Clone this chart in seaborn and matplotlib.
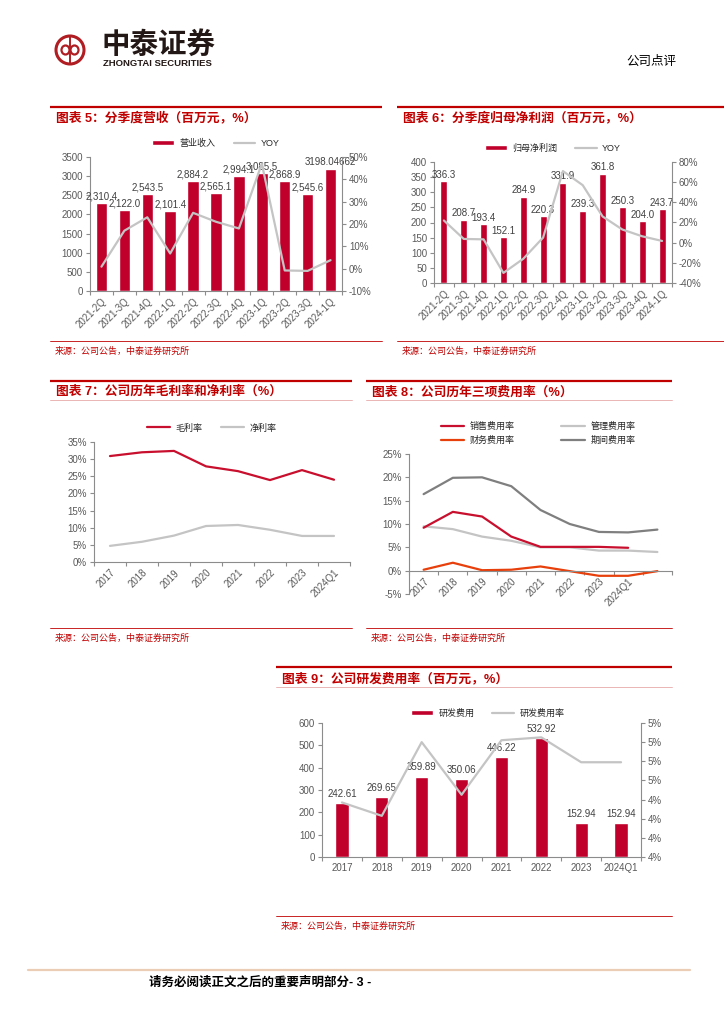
import numpy as np
import matplotlib
matplotlib.use('Agg')
import matplotlib.pyplot as plt
import seaborn as sns
from matplotlib.patches import Patch, Circle, Ellipse
from matplotlib.lines import Line2D
from matplotlib.ticker import MultipleLocator, FuncFormatter

# ---- data ----
quarters_rev = ['2021-2Q', '2021-3Q', '2021-4Q', '2022-1Q', '2022-2Q', '2022-3Q',
                '2022-4Q', '2023-1Q', '2023-2Q', '2023-3Q', '2024-1Q']
revenue = [2310.4, 2122.0, 2543.5, 2101.4, 2884.2, 2565.1, 2994.1, 3085.5, 2868.9, 2545.6, 3198.04662]
revenue_yoy = [0.9, 17.0, 23.0, 6.8, 25.0, 21.0, 18.0, 47.0, -0.8, -1.0, 3.8]

quarters_np = ['2021-2Q', '2021-3Q', '2021-4Q', '2022-1Q', '2022-2Q', '2022-3Q',
               '2022-4Q', '2023-1Q', '2023-2Q', '2023-3Q', '2023-4Q', '2024-1Q']
net_profit = [336.3, 208.7, 193.4, 152.1, 284.9, 220.3, 331.9, 239.3, 361.8, 250.3, 204.0, 243.7]
net_profit_yoy = [22.0, 3.7, 3.3, -30.0, -16.0, 5.0, 71.0, 57.0, 26.0, 13.0, 6.3, 1.7]

years = ['2017', '2018', '2019', '2020', '2021', '2022', '2023', '2024Q1']
gross_margin = [30.9, 32.0, 32.4, 27.9, 26.5, 23.9, 26.8, 24.0]
net_margin = [4.7, 5.9, 7.7, 10.5, 10.8, 9.4, 7.6, 7.6]

sales_rate = [9.2, 12.6, 11.6, 7.3, 5.1, 5.1, 5.1, 4.9]
admin_rate = [9.5, 8.9, 7.3, 6.4, 5.0, 5.0, 4.3, 4.3, 4.0]
fin_rate = [0.2, 1.7, 0.1, 0.2, 0.9, -0.1, -1.1, -1.1, -0.1]
period_rate = [16.4, 19.9, 20.0, 18.1, 13.0, 10.0, 8.3, 8.2, 8.8]

rd_cost = [242.61, 269.65, 359.89, 350.06, 446.22, 532.92, 152.94, 152.94]
rd_rate = [4.37, 4.23, 5.00, 4.45, 5.02, 5.05, 4.79, 4.79]

# ---- colours ----
RED = '#C00000'
BAR = '#C0002B'
CRIMSON = '#C8102E'
LGRAY = '#C4C4C4'
DGRAY = '#7F7F7F'
ORANGE = '#E8400C'
SPINE = '#8C8C8C'
TICK = '#595959'
LABEL = '#404040'

sns.set_style('ticks')
plt.rcParams['font.family'] = ['Liberation Sans', 'Noto Sans CJK SC', 'DejaVu Sans']
plt.rcParams['axes.unicode_minus'] = False

W, H = 724, 1024
fig = plt.figure(figsize=(7.24, 10.24), dpi=100)

deco = fig.add_axes([0, 0, 1, 1])
deco.set_xlim(0, W)
deco.set_ylim(H, 0)
deco.axis('off')


def px_axes(l, t, r, b):
    return fig.add_axes([l / W, 1 - b / H, (r - l) / W, (b - t) / H])


pct = FuncFormatter(lambda v, p: f'{v:.0f}%')


def panel(x0, x1, top, title, title_y, src_y, sub_y=None):
    deco.plot([x0, x1], [top, top], color=RED, lw=1.6, solid_capstyle='butt')
    deco.text(x0 + 6, title_y, title, color=RED, fontsize=9.2, fontweight='bold',
              ha='left', va='center')
    if sub_y is not None:
        deco.plot([x0, x1], [sub_y, sub_y], color='#E8A8A8', lw=0.6)
    deco.plot([x0, x1], [src_y, src_y], color=RED, lw=0.6)
    deco.text(x0 + 5, src_y + 10, '来源：公司公告，中泰证券研究所', color=RED,
              fontsize=6.5, ha='left', va='center')


def left_axis(ax):
    ax.spines['top'].set_visible(False)
    ax.spines['right'].set_visible(False)
    for s in ['left', 'bottom']:
        ax.spines[s].set_color(SPINE)
        ax.spines[s].set_linewidth(0.8)
    ax.tick_params(axis='y', length=3, width=0.8, color=SPINE, labelcolor=TICK, labelsize=7, pad=2)
    ax.set_xlabel('')
    ax.set_ylabel('')


def right_axis(ax):
    for s in ['top', 'left', 'bottom']:
        ax.spines[s].set_visible(False)
    ax.spines['right'].set_color(SPINE)
    ax.spines['right'].set_linewidth(0.8)
    ax.tick_params(axis='y', length=3, width=0.8, color=SPINE, labelcolor=TICK, labelsize=7, pad=2)
    ax.yaxis.set_major_formatter(pct)
    ax.set_xlabel('')
    ax.set_ylabel('')


def cat_xaxis(ax, labels, rotate=True):
    n = len(labels)
    ax.set_xticks(np.arange(n))
    ax.set_xticklabels(labels)
    ax.set_xticks(np.arange(n + 1) - 0.5, minor=True)
    ax.tick_params(axis='x', which='major', length=0, pad=4, labelsize=7, labelcolor=TICK)
    ax.tick_params(axis='x', which='minor', length=3, width=0.8, color=SPINE)
    if rotate:
        plt.setp(ax.get_xticklabels(), rotation=45, ha='right', rotation_mode='anchor')
    ax.set_xlim(-0.5, n - 0.5)


# ---- header / footer ----
deco.add_patch(Circle((70, 50), 14, fill=False, lw=2.2, color='#B01E23'))
deco.add_patch(Ellipse((65.5, 50), 8, 9, fill=False, lw=1.6, color='#B01E23'))
deco.add_patch(Ellipse((74.5, 50), 8, 9, fill=False, lw=1.6, color='#B01E23'))
deco.plot([70, 70], [37, 63], color='#B01E23', lw=1.4)
deco.text(102, 45, '中泰证券', fontsize=20.5, fontweight='bold', color='#231815',
          ha='left', va='center')
deco.text(103, 63, 'ZHONGTAI SECURITIES', fontsize=6.8, fontweight='bold', color='#231815',
          ha='left', va='center')
deco.text(626, 62, '公司点评', fontsize=9, color='black', ha='left', va='center')

deco.plot([28, 690], [970, 970], color='#EBCDB5', lw=1.6)
deco.text(149, 983, '请务必阅读正文之后的重要声明部分- 3 -', fontsize=9, fontweight='bold',
          color='black', ha='left', va='center')

# ---- panels ----
panel(50, 382, 107, '图表 5：分季度营收（百万元，%）', 118, 341)
panel(397, 724, 107, '图表 6：分季度归母净利润（百万元，%）', 118, 341)
panel(50, 352, 381, '图表 7：公司历年毛利率和净利率（%）', 392, 628, 400)
panel(366, 672, 381, '图表 8：公司历年三项费用率（%）', 392, 628, 400)
panel(276, 672, 667, '图表 9：公司研发费用率（百万元，%）', 679, 916, 687)

# ---- chart 5 ----
ax5 = px_axes(90, 157, 342, 291)
sns.barplot(x=quarters_rev, y=revenue, ax=ax5, color=BAR, width=0.5, saturation=1, errorbar=None)
rev_labels = [f'{v:,.1f}' for v in revenue[:-1]] + [f'{revenue[-1]}']
ax5.bar_label(ax5.containers[0], labels=rev_labels, padding=1, fontsize=7, color=LABEL)
ax5.set_ylim(0, 3500)
ax5.yaxis.set_major_locator(MultipleLocator(500))
left_axis(ax5)
ax5b = ax5.twinx()
sns.lineplot(x=np.arange(len(revenue_yoy)), y=revenue_yoy, ax=ax5b, color=LGRAY, lw=1.6)
ax5b.set_ylim(-10, 50)
ax5b.yaxis.set_major_locator(MultipleLocator(10))
right_axis(ax5b)
cat_xaxis(ax5, quarters_rev)
ax5b.legend(handles=[Patch(facecolor=BAR, label='营业收入'),
                     Line2D([], [], color=LGRAY, lw=1.6, label='YOY')],
            loc='center', bbox_to_anchor=(0.5, 1.105), ncol=2, frameon=False, fontsize=6.5,
            handlelength=2.4, handleheight=0.55, columnspacing=2.0, handletextpad=0.6)

# ---- chart 6 ----
ax6 = px_axes(434, 162, 672, 283)
sns.barplot(x=quarters_np, y=net_profit, ax=ax6, color=BAR, width=0.35, saturation=1, errorbar=None)
ax6.bar_label(ax6.containers[0], labels=[f'{v:.1f}' for v in net_profit], padding=1,
              fontsize=7, color=LABEL)
ax6.set_ylim(0, 400)
ax6.yaxis.set_major_locator(MultipleLocator(50))
left_axis(ax6)
ax6b = ax6.twinx()
sns.lineplot(x=np.arange(len(net_profit_yoy)), y=net_profit_yoy, ax=ax6b, color=LGRAY, lw=1.6)
ax6b.set_ylim(-40, 80)
ax6b.yaxis.set_major_locator(MultipleLocator(20))
right_axis(ax6b)
cat_xaxis(ax6, quarters_np)
ax6b.legend(handles=[Patch(facecolor=BAR, label='归母净利润'),
                     Line2D([], [], color=LGRAY, lw=1.6, label='YOY')],
            loc='center', bbox_to_anchor=(0.5, 1.116), ncol=2, frameon=False, fontsize=6.5,
            handlelength=2.4, handleheight=0.55, columnspacing=2.0, handletextpad=0.6)

# ---- chart 7 ----
ax7 = px_axes(94, 442, 350, 562)
x7 = np.arange(len(years))
sns.lineplot(x=x7, y=gross_margin, ax=ax7, color=CRIMSON, lw=1.6)
sns.lineplot(x=x7, y=net_margin, ax=ax7, color=LGRAY, lw=1.6)
ax7.set_ylim(0, 35)
ax7.yaxis.set_major_locator(MultipleLocator(5))
ax7.yaxis.set_major_formatter(pct)
left_axis(ax7)
cat_xaxis(ax7, years)
ax7.legend(handles=[Line2D([], [], color=CRIMSON, lw=1.6, label='毛利率'),
                    Line2D([], [], color=LGRAY, lw=1.6, label='净利率')],
           loc='center', bbox_to_anchor=(0.46, 1.117), ncol=2, frameon=False, fontsize=6.5,
           handlelength=2.6, columnspacing=2.0, handletextpad=0.6)

# ---- chart 8 ----
ax8 = px_axes(409, 454, 672, 594)
for vals, col in [(period_rate, DGRAY), (admin_rate, LGRAY), (sales_rate, CRIMSON), (fin_rate, ORANGE)]:
    sns.lineplot(x=np.arange(len(vals)), y=vals, ax=ax8, color=col, lw=1.6)
ax8.set_ylim(-5, 25)
ax8.yaxis.set_major_locator(MultipleLocator(5))
ax8.yaxis.set_major_formatter(pct)
left_axis(ax8)
ax8.spines['bottom'].set_position(('data', 0))
cat_xaxis(ax8, years + [''])
ax8.legend(handles=[Line2D([], [], color=CRIMSON, lw=1.6, label='销售费用率'),
                    Line2D([], [], color=ORANGE, lw=1.6, label='财务费用率'),
                    Line2D([], [], color=LGRAY, lw=1.6, label='管理费用率'),
                    Line2D([], [], color=DGRAY, lw=1.6, label='期间费用率')],
           loc='center', bbox_to_anchor=(0.49, 1.146), ncol=2, frameon=False, fontsize=6.5,
           handlelength=2.6, columnspacing=5.2, handletextpad=0.6, labelspacing=0.5)

# ---- chart 9 ----
ax9 = px_axes(322, 723, 641, 857)
sns.barplot(x=years, y=rd_cost, ax=ax9, color=BAR, width=0.33, saturation=1, errorbar=None)
ax9.bar_label(ax9.containers[0], labels=[f'{v:.2f}' for v in rd_cost], padding=3,
              fontsize=7, color=LABEL)
ax9.set_ylim(0, 600)
ax9.yaxis.set_major_locator(MultipleLocator(100))
left_axis(ax9)
ax9b = ax9.twinx()
sns.lineplot(x=np.arange(len(rd_rate)), y=rd_rate, ax=ax9b, color=LGRAY, lw=1.6)
ax9b.set_ylim(3.8, 5.2)
ax9b.yaxis.set_major_locator(MultipleLocator(0.2))
right_axis(ax9b)
cat_xaxis(ax9, years, rotate=False)
ax9b.legend(handles=[Patch(facecolor=BAR, label='研发费用'),
                     Line2D([], [], color=LGRAY, lw=1.6, label='研发费用率')],
            loc='center', bbox_to_anchor=(0.52, 1.075), ncol=2, frameon=False, fontsize=6.5,
            handlelength=2.4, handleheight=0.55, columnspacing=2.0, handletextpad=0.6)

fig.savefig('out.png', dpi=100)
